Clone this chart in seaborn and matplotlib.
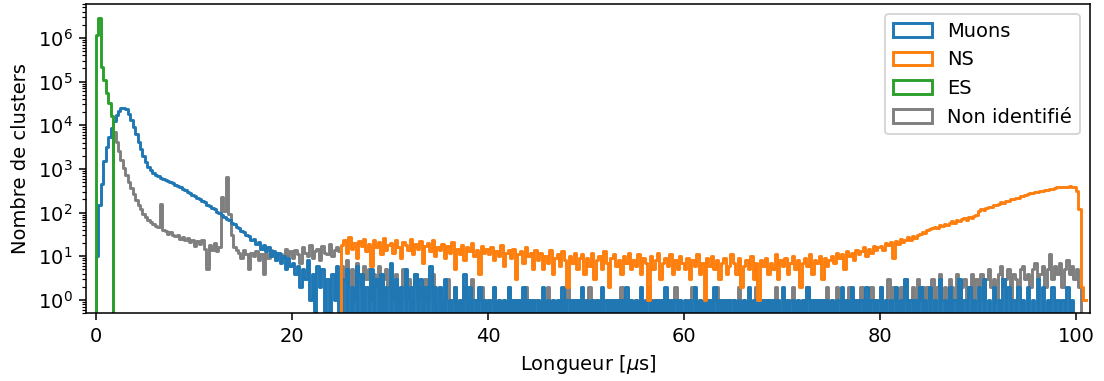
import numpy as np
import pandas as pd
import matplotlib
matplotlib.use('Agg')
import matplotlib.pyplot as plt
import matplotlib.patches as mpatches
import seaborn as sns

# Histogram bins (µs), one empty bin before 0 so the outline starts on the baseline
bin_width = 0.25
bin_range = (-0.25, 101.0)

# Counts per bin; each series starts at its own offset (µs)
muons_start = 0.0
muons_counts = [
    10, 150, 450, 1500, 3200, 5500, 8500, 12500, 17000, 21500,
    25000, 25500, 23000, 18500, 13500, 9200, 6200, 4100, 2800, 1950,
    1450, 1120, 930, 810, 730, 680, 630, 590,
    560, 530, 490, 470, 430, 400, 385, 350, 330, 300, 285, 255,
    240, 215, 205, 180, 170, 150, 142, 125, 118, 104, 98, 86,
    80, 70, 66, 57, 54, 46, 44, 37, 36, 30, 29, 24,
    25, 19, 21, 15, 18, 13, 16, 10, 13, 8, 12, 7, 10, 5, 9, 6,
    7, 4, 6, 2, 5, 3, 8, 1, 4, 0, 6, 2, 5, 0, 3, 0, 4, 1, 6, 0,
    3, 0, 5, 0, 2, 0, 6, 0, 4, 0, 2, 0, 5, 0, 3, 0, 4, 0, 2, 0,
    7, 0, 3, 0, 2, 0, 5, 0, 2, 0, 4, 0, 3, 0, 2, 0, 6, 0, 2, 0,
    2, 0, 3, 0, 1, 0, 2, 0, 1, 0, 4, 0, 2, 0, 1, 0, 2, 0, 1, 0,
    1, 0, 2, 0, 1, 0, 1, 0, 2, 0, 1, 0, 1, 0, 2, 0, 1, 0, 1, 0,
    1, 0, 2, 0, 1, 0, 1, 0, 1, 0, 2, 0, 1, 0, 1, 0, 1, 0, 2, 0,
    1, 0, 1, 0, 1, 0, 2, 0, 1, 0, 1, 0, 1, 0, 1, 0, 2, 0, 1, 0,
    1, 0, 2, 0, 1, 0, 1, 0, 1, 0, 1, 0, 2, 0, 1, 0, 1, 0, 1, 0,
    1, 0, 1, 0, 2, 0, 1, 0, 1, 0, 1, 0, 2, 0, 1, 0, 1, 0, 1, 0,
    1, 0, 1, 0, 1, 0, 2, 0, 1, 0, 1, 0, 1, 0, 1, 0, 1, 0, 1, 0,
    2, 0, 1, 0, 1, 0, 1, 0, 1, 0, 2, 0, 1, 0, 1, 0, 1, 0, 1, 0,
    1, 0, 1, 0, 2, 0, 1, 0, 2, 0, 1, 0, 1, 0, 2, 0, 1, 0, 1, 0,
    2, 0, 1, 0, 1, 0, 2, 0, 1, 0, 3, 0, 1, 0, 1, 0, 2, 0, 1, 0,
    2, 0, 1, 0, 3, 0, 1, 0, 2, 0, 1, 0, 3, 0, 1, 0, 2, 0, 1, 0,
    2, 0, 3, 0, 1, 0, 2, 0, 1, 0, 3, 0, 2, 0, 1, 0, 2, 0, 1, 0,
    2, 0, 1, 0, 3, 0, 2, 0, 1, 0, 2, 0, 1, 0, 1, 0, 2, 0, 1, 0,
]

ns_start = 25.0
ns_counts = [
    18, 24, 12, 27, 15, 20, 9, 22, 17, 25, 13, 19, 6, 23, 16, 21, 11, 26, 14, 18,
    20, 12, 24, 16, 9, 21, 18, 14, 25, 11, 19, 15, 22, 7, 17, 20, 13, 23, 10, 16,
    14, 19, 9, 17, 12, 21, 5, 15, 11, 18, 8, 16, 13, 20, 10, 14, 4, 17, 12, 15,
    11, 16, 8, 13, 10, 18, 6, 12, 14, 9, 15, 3, 11, 13, 7, 16, 10, 12, 5, 14,
    8, 12, 5, 10, 7, 14, 4, 9, 11, 6, 13, 8, 2, 10, 7, 12, 5, 9, 11, 4,
    9, 6, 12, 3, 8, 10, 5, 13, 7, 2, 9, 11, 6, 8, 4, 10, 7, 12, 5, 8,
    6, 11, 4, 9, 7, 1, 10, 5, 8, 12, 3, 7, 9, 6, 11, 4, 8, 5, 10, 7,
    5, 9, 3, 8, 6, 11, 4, 7, 1, 9, 6, 10, 5, 8, 3, 7, 9, 4, 6, 11,
    7, 4, 9, 2, 6, 8, 5, 10, 3, 7, 1, 8, 6, 9, 4, 7, 5, 11, 3, 8,
    6, 9, 4, 7, 10, 5, 8, 2, 7, 9, 6, 11, 4, 8, 7, 10, 3, 9, 6, 8,
    10, 7, 12, 9, 11, 5, 13, 10, 12, 8, 14, 11, 13, 16, 10, 15, 12, 17, 14, 16,
    17, 14, 20, 18, 21, 9, 22, 19, 25, 21, 24, 27, 23, 29, 26, 31, 33, 36, 34, 39,
    42, 44, 47, 45, 51, 49, 55, 53, 59, 63, 58, 66, 64, 70, 75, 68, 79, 76, 84, 90,
    108, 119, 117, 124, 136, 131, 149, 150, 156, 170, 169, 186, 185, 203, 201, 221, 219, 240, 238, 258,
    260, 276, 275, 293, 292, 311, 314, 332, 334, 352, 355, 372, 376, 388, 383, 393, 389, 398, 392, 376,
    310, 120, 2, 1,
]

es_start = 0.0
es_counts = [1200000, 2900000, 220000, 110000, 55000, 32000, 16000]

other_start = 1.75
other_counts = [
    7000, 4200, 2600, 1600, 1050, 720, 500, 360, 260, 195, 150, 118, 95, 80, 68, 60, 54, 48, 46, 160, 40,
    38, 33, 36, 30, 29, 31, 25, 28, 24, 26, 21, 23, 17, 22, 19, 24, 15, 5, 18, 14, 20, 13, 16,
    230, 110, 650, 95, 30, 16, 14, 12, 9,
    14, 11, 5, 12, 10, 13, 8, 11, 4, 12, 9, 14, 10, 8, 12, 11, 9, 15, 10, 13,
    9, 14, 11, 7, 16, 12, 10, 18, 9, 13, 15, 8, 17, 12, 11, 19, 10, 14, 16, 13,
    6, 3, 8, 2, 5, 1, 7, 4, 2, 6, 3, 5, 1, 4, 2, 6, 0, 3, 5, 2,
    3, 1, 4, 0, 2, 5, 1, 3, 0, 2, 4, 1, 2, 0, 3, 1, 2, 4, 0, 1,
    2, 0, 1, 3, 0, 1, 2, 0, 1, 0, 2, 1, 0, 3, 1, 0, 1, 2, 0, 1,
    0, 1, 2, 0, 1, 0, 1, 0, 2, 1, 0, 1, 0, 1, 0, 2, 0, 1, 0, 1,
    1, 0, 1, 0, 2, 0, 1, 0, 1, 0, 1, 0, 2, 1, 0, 1, 0, 1, 0, 1,
    0, 2, 0, 1, 0, 1, 0, 1, 1, 0, 1, 0, 1, 0, 2, 0, 1, 0, 1, 0,
    1, 0, 1, 0, 1, 2, 0, 1, 0, 1, 0, 1, 0, 1, 0, 1, 2, 0, 1, 0,
    0, 1, 0, 2, 1, 0, 1, 0, 1, 0, 1, 0, 1, 2, 0, 1, 0, 1, 0, 1,
    1, 0, 2, 0, 1, 0, 1, 0, 1, 2, 0, 1, 0, 1, 0, 1, 0, 2, 1, 0,
    0, 1, 0, 1, 2, 0, 1, 0, 1, 0, 2, 1, 0, 1, 0, 1, 0, 1, 2, 0,
    1, 0, 2, 1, 0, 1, 0, 2, 0, 1, 0, 1, 2, 0, 1, 0, 2, 1, 0, 1,
    2, 0, 1, 3, 0, 2, 1, 0, 2, 1, 3, 0, 1, 2, 0, 3, 1, 2, 0, 2,
    1, 3, 0, 2, 4, 1, 2, 0, 3, 2, 1, 4, 0, 2, 3, 1, 2, 4, 0, 3,
    2, 4, 1, 3, 5, 2, 3, 1, 4, 6, 2, 3, 5, 1, 4, 3, 2, 5, 6, 3,
    4, 2, 5, 7, 3, 4, 6, 2, 5, 11, 3, 6, 4, 7, 2, 5, 8, 4, 6, 3,
    5, 2,
]

labels = ['Muons', 'NS', 'ES', 'Non identifié']
colors = ['#1f77b4', '#ff7f0e', '#2ca02c', '#7f7f7f']


def to_frame(start, counts):
    x = start + bin_width * (np.arange(len(counts)) + 0.5)
    return pd.DataFrame({'longueur': x, 'n': counts})


series = {
    'Muons': to_frame(muons_start, muons_counts),
    'NS': to_frame(ns_start, ns_counts),
    'ES': to_frame(es_start, es_counts),
    'Non identifié': to_frame(other_start, other_counts),
}
palette = dict(zip(labels, colors))

fig, ax = plt.subplots(figsize=(1104 / 140, 381 / 140), dpi=140)
fig.subplots_adjust(left=0.078, right=0.987, top=0.9895, bottom=0.1785)

# drawing order: unidentified at the back, ES in front
for name in ['Non identifié', 'Muons', 'NS', 'ES']:
    sns.histplot(data=series[name], x='longueur', weights='n',
                 binwidth=bin_width, binrange=bin_range,
                 element='step', fill=False, color=palette[name],
                 linewidth=1.5, ax=ax)

ax.set_yscale('log')
ax.set_xlim(-1.0, 101.4)
ax.set_ylim(0.5, 6e6)
ax.set_xlabel(r'Longueur [$\mu$s]')
ax.set_ylabel('Nombre de clusters')

handles = [mpatches.Patch(facecolor='none', edgecolor=palette[l], linewidth=1.5, label=l)
           for l in labels]
ax.legend(handles=handles, loc='upper right')

fig.savefig('out.png', dpi=140)
